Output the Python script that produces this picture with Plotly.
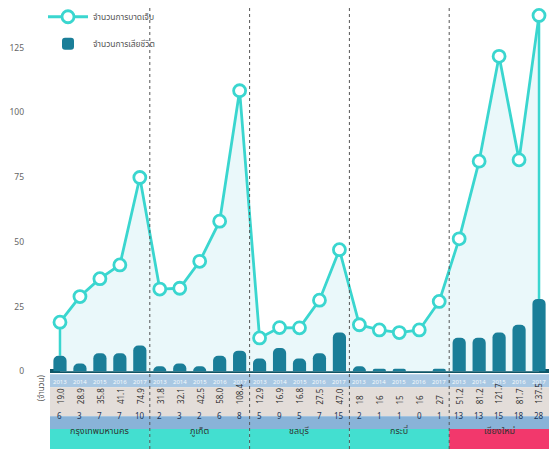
import plotly.graph_objects as go

provinces = ["กรุงเทพมหานคร", "ภูเก็ต", "ชลบุรี", "กระบี่", "เชียงใหม่"]
years = ["2013", "2014", "2015", "2016", "2017"]
injury_labels = ["19.0", "28.9", "35.8", "41.1", "74.9",
                 "31.8", "32.1", "42.5", "58.0", "108.4",
                 "12.9", "16.9", "16.8", "27.5", "47.0",
                 "18", "16", "15", "16", "27",
                 "51.2", "81.2", "121.7", "81.7", "137.5"]
injuries = [float(v) for v in injury_labels]
deaths = [6, 3, 7, 7, 10,
          2, 3, 2, 6, 8,
          5, 9, 5, 7, 15,
          2, 1, 1, 0, 1,
          13, 13, 15, 18, 28]
legend_names = ["จำนวนการบาดเจ็บ", "จำนวนการเสียชีวิต"]
unit_label = "(จำนวน)"

W, H = 553, 453
FONT = "Noto Sans, Noto Sans Thai, Loma, sans-serif"
LINE = "#3ad6cf"
BAR = "#1a7e98"

n = len(injuries)
xs = list(range(n))
ng = len(provinces)
per = len(years)

def py(px):
    return 1 - px / H

fig = go.Figure()

# fill under line
fig.add_trace(go.Scatter(x=xs, y=injuries, mode="none", fill="tozeroy",
                         fillcolor="#eaf8fa", showlegend=False, hoverinfo="skip"))
# end drops
fig.add_trace(go.Scatter(x=[xs[0], xs[0], None, xs[-1], xs[-1]],
                         y=[deaths[0], injuries[0], None, deaths[-1], injuries[-1]],
                         mode="lines", line=dict(color=LINE, width=2.5),
                         showlegend=False, hoverinfo="skip"))
fig.add_trace(go.Scatter(x=xs, y=injuries, mode="lines+markers", name=legend_names[0],
                         line=dict(color=LINE, width=2.8),
                         marker=dict(symbol="circle", size=12, color="white",
                                     line=dict(color=LINE, width=2.8)),
                         legendgroup="a"))
fig.add_trace(go.Bar(x=xs, y=deaths, name=legend_names[1], marker=dict(color=BAR, line=dict(width=0)),
                     width=0.66, yaxis="y2", legendgroup="b"))

ymin, ymax = -1.15, 143.46
dom_bottom = py(376)
xdom = [50 / W, 549 / W]

shapes = []
annotations = []
# table rows
rows = [(376, 389, "#a9c8e3"), (389, 418, "#e3ddd9"), (418, 431, "#89b3d8")]
for top, bot, col in rows:
    shapes.append(dict(type="rect", xref="x", yref="paper", x0=-0.5, x1=n - 0.5,
                       y0=py(bot), y1=py(top), fillcolor=col, line=dict(width=0), layer="below"))
for g in range(ng):
    col = "#f2386c" if g == ng - 1 else "#43dfd0"
    shapes.append(dict(type="rect", xref="x", yref="paper", x0=g * per - 0.5, x1=g * per + per - 0.5,
                       y0=py(451), y1=py(431), fillcolor=col, line=dict(width=0), layer="below"))
    annotations.append(dict(x=g * per + (per - 1) / 2, y=py(441), xref="x", yref="paper",
                            text=provinces[g], showarrow=False,
                            font=dict(size=9, color="#333", family=FONT)))
for g in range(1, ng):
    shapes.append(dict(type="line", xref="x", yref="paper", x0=g * per - 0.5, x1=g * per - 0.5,
                       y0=py(451), y1=py(8), line=dict(color="#555", width=1, dash="dot"), layer="above"))
for i in xs:
    annotations.append(dict(x=i, y=py(383.5), xref="x", yref="paper", yanchor="middle",
                            text=years[i % per], showarrow=False,
                            font=dict(size=6, color="#f4f8fc", family=FONT)))
    annotations.append(dict(x=i, y=py(408), xref="x", yref="paper",
                            text=injury_labels[i], showarrow=False, textangle=-90,
                            font=dict(size=8, color="#333", family=FONT)))
    annotations.append(dict(x=i, y=py(424.5), xref="x", yref="paper", text=str(deaths[i]),
                            showarrow=False, font=dict(size=8, color="#1d3557", family=FONT)))
annotations.append(dict(x=33 / W, y=py(405), xref="paper", yref="paper", text=unit_label,
                        showarrow=False, textangle=-90, font=dict(size=8, color="#555", family=FONT)))

fig.update_layout(
    width=W, height=H, margin=dict(l=0, r=0, t=0, b=0),
    paper_bgcolor="white", plot_bgcolor="rgba(0,0,0,0)",
    font=dict(family=FONT, color="#555", size=9),
    barcornerradius=5,
    showlegend=True,
    legend=dict(x=43 / W, y=0.995, xanchor="left", yanchor="top", bgcolor="rgba(0,0,0,0)",
                font=dict(size=8.5, color="#555", family=FONT), itemwidth=40,
                traceorder="grouped", tracegroupgap=8),
    xaxis=dict(domain=xdom, range=[-0.5, n - 0.5], showgrid=False, zeroline=False,
               showticklabels=False, ticks="", showline=False),
    yaxis=dict(domain=[dom_bottom, 1], range=[ymin, ymax], showgrid=False,
               zeroline=True, zerolinecolor="#0f5566", zerolinewidth=4,
               tickvals=[0, 25, 50, 75, 100, 125], ticks="", showline=False,
               anchor="free", position=24 / W,
               tickfont=dict(size=8.5, color="#666", family=FONT)),
    yaxis2=dict(domain=[dom_bottom, 1], range=[ymin, ymax], overlaying="y", visible=False),
    shapes=shapes, annotations=annotations,
)

fig.write_html("out.html")
